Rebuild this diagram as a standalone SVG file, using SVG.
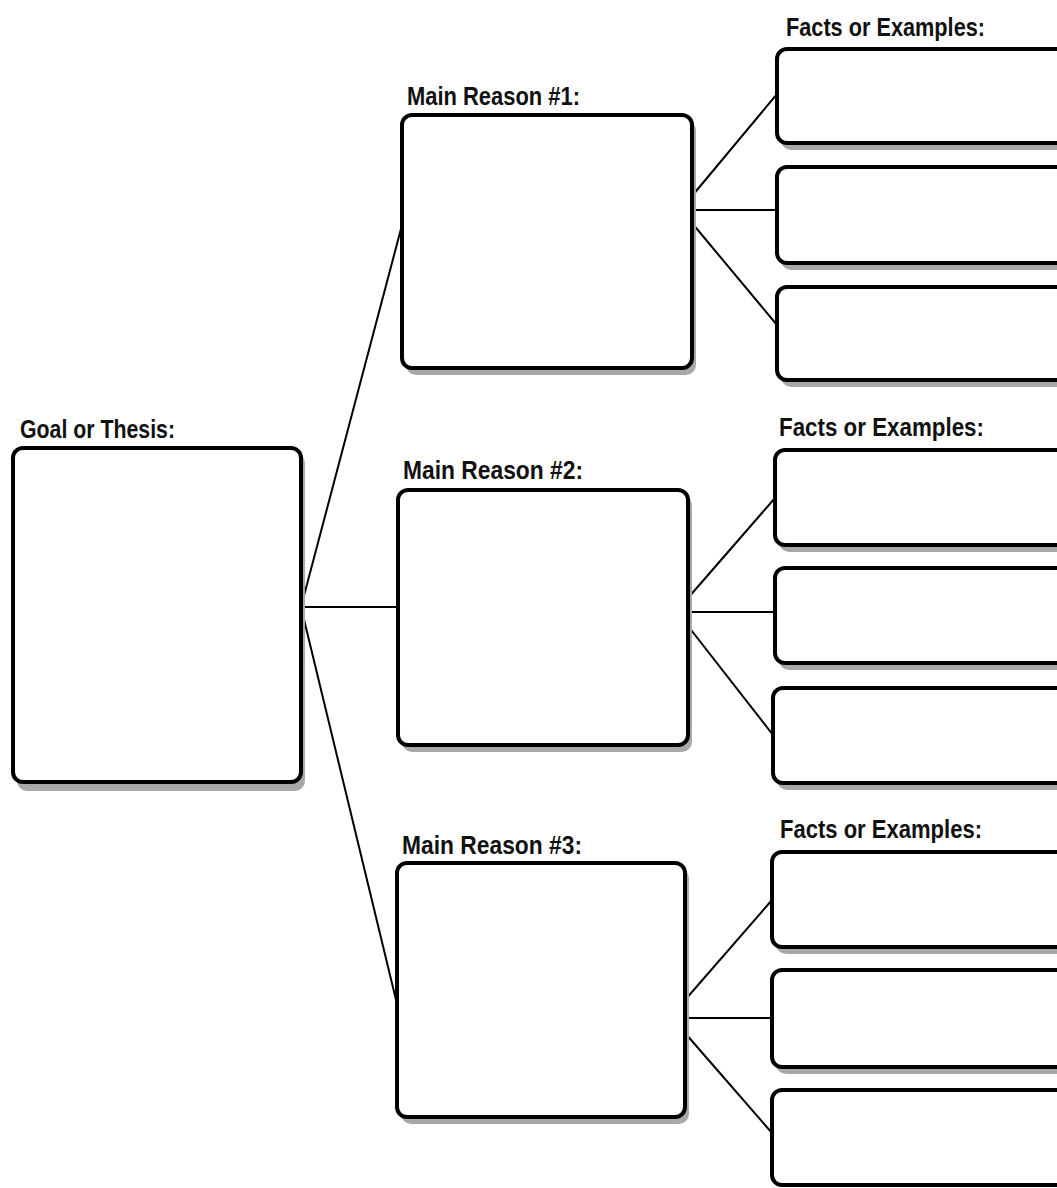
<svg xmlns="http://www.w3.org/2000/svg" width="1057" height="1188" viewBox="0 0 1057 1188">
<style>
.bg{fill:#fff}
.shadow{fill:#a8a8a8;stroke:none}
.box{fill:#fff;stroke:#000;stroke-width:4}
.conn{stroke:#000;stroke-width:2;fill:none}
.lbl{font-family:"Liberation Sans Narrow","Liberation Sans",Arial,sans-serif;font-weight:bold;font-size:26px;fill:#111}
</style>
<rect class="bg" x="0" y="0" width="1057" height="1188"/>
<g id="connectors">
<line class="conn" x1="301" y1="607" x2="402" y2="225"/>
<line class="conn" x1="301" y1="607" x2="398" y2="607"/>
<line class="conn" x1="301" y1="607" x2="397" y2="1004"/>
<line class="conn" x1="692" y1="196" x2="777" y2="94"/>
<line class="conn" x1="692" y1="210" x2="777" y2="210"/>
<line class="conn" x1="692" y1="223" x2="777" y2="325"/>
<line class="conn" x1="688" y1="598" x2="775" y2="498"/>
<line class="conn" x1="688" y1="612" x2="775" y2="612"/>
<line class="conn" x1="688" y1="626" x2="773" y2="735"/>
<line class="conn" x1="685" y1="1000" x2="772" y2="900"/>
<line class="conn" x1="685" y1="1018" x2="772" y2="1018"/>
<line class="conn" x1="685" y1="1033" x2="772" y2="1133"/>
</g>
<g id="goal">
<rect class="shadow" x="17" y="453" width="288" height="338" rx="10"/>
<rect class="box" x="13" y="448" width="288" height="334" rx="10"/>
<text class="lbl" x="20" y="438" textLength="155" lengthAdjust="spacingAndGlyphs">Goal or Thesis:</text>
</g>
<g id="reason1">
<rect class="shadow" x="406" y="120" width="290" height="255" rx="10"/>
<rect class="box" x="402" y="115" width="290" height="253" rx="10"/>
<text class="lbl" x="407" y="105" textLength="173" lengthAdjust="spacingAndGlyphs">Main Reason #1:</text>
</g>
<g id="reason2">
<rect class="shadow" x="402" y="495" width="290" height="257" rx="10"/>
<rect class="box" x="398" y="490" width="290" height="255" rx="10"/>
<text class="lbl" x="403" y="479" textLength="180" lengthAdjust="spacingAndGlyphs">Main Reason #2:</text>
</g>
<g id="reason3">
<rect class="shadow" x="401" y="868" width="288" height="256" rx="10"/>
<rect class="box" x="397" y="863" width="288" height="254" rx="10"/>
<text class="lbl" x="402" y="854" textLength="180" lengthAdjust="spacingAndGlyphs">Main Reason #3:</text>
</g>
<g id="facts1">
<text class="lbl" x="786" y="36" textLength="199" lengthAdjust="spacingAndGlyphs">Facts or Examples:</text>
<g id="fact1a"><rect class="shadow" x="781" y="54" width="300" height="96" rx="10"/><rect class="box" x="777" y="49" width="300" height="94" rx="10"/></g>
<g id="fact1b"><rect class="shadow" x="781" y="172" width="300" height="98" rx="10"/><rect class="box" x="777" y="167" width="300" height="96" rx="10"/></g>
<g id="fact1c"><rect class="shadow" x="781" y="292" width="300" height="95" rx="10"/><rect class="box" x="777" y="287" width="300" height="93" rx="10"/></g>
</g>
<g id="facts2">
<text class="lbl" x="779" y="436" textLength="205" lengthAdjust="spacingAndGlyphs">Facts or Examples:</text>
<g id="fact2a"><rect class="shadow" x="779" y="455" width="300" height="97" rx="10"/><rect class="box" x="775" y="450" width="300" height="95" rx="10"/></g>
<g id="fact2b"><rect class="shadow" x="779" y="573" width="300" height="97" rx="10"/><rect class="box" x="775" y="568" width="300" height="95" rx="10"/></g>
<g id="fact2c"><rect class="shadow" x="777" y="693" width="300" height="97" rx="10"/><rect class="box" x="773" y="688" width="300" height="95" rx="10"/></g>
</g>
<g id="facts3">
<text class="lbl" x="780" y="838" textLength="202" lengthAdjust="spacingAndGlyphs">Facts or Examples:</text>
<g id="fact3a"><rect class="shadow" x="776" y="857" width="300" height="97" rx="10"/><rect class="box" x="772" y="852" width="300" height="95" rx="10"/></g>
<g id="fact3b"><rect class="shadow" x="776" y="975" width="300" height="99" rx="10"/><rect class="box" x="772" y="970" width="300" height="97" rx="10"/></g>
<g id="fact3c"><rect class="box" x="772" y="1090" width="300" height="95" rx="10"/></g>
</g>
</svg>
